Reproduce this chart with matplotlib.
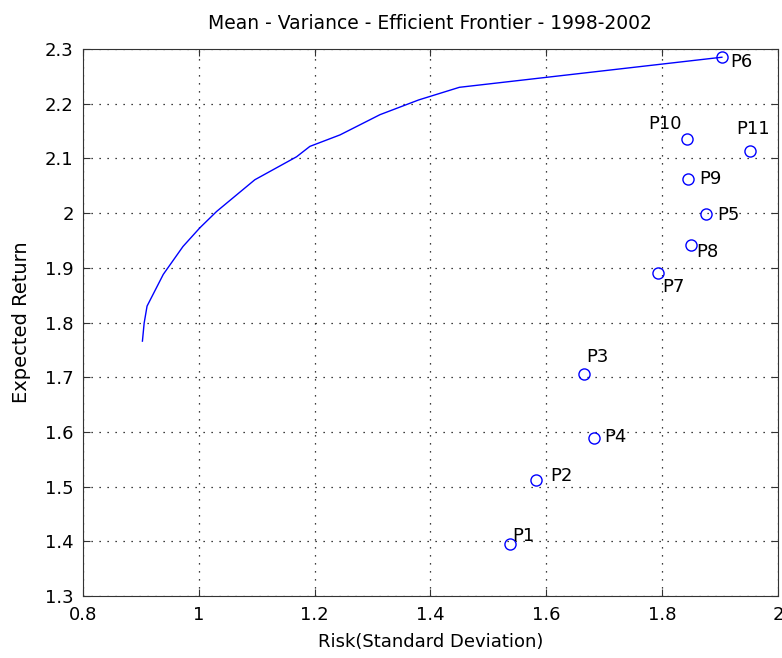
import numpy as np
import matplotlib
matplotlib.use("Agg")
import matplotlib.pyplot as plt

plt.rcParams['font.family'] = ['DejaVu Sans']

# --- Data ---
frontier_risk = [0.903, 0.906, 0.911, 0.939, 0.973, 1.002, 1.031, 1.097, 1.169,
                 1.192, 1.244, 1.313, 1.380, 1.450, 1.903]
frontier_ret = [1.766, 1.799, 1.830, 1.888, 1.939, 1.973, 2.003, 2.061, 2.103,
                2.122, 2.143, 2.180, 2.207, 2.230, 2.285]

names = ["P1", "P2", "P3", "P4", "P5", "P6", "P7", "P8", "P9", "P10", "P11"]
risk = [1.538, 1.582, 1.665, 1.682, 1.875, 1.903, 1.792, 1.849, 1.845, 1.842, 1.952]
ret = [1.395, 1.512, 1.705, 1.588, 1.998, 2.285, 1.890, 1.942, 2.063, 2.136, 2.113]

# label offsets in pixels (left edge of text, vertical centre)
offsets = {"P1": (2, 8), "P2": (14, 4), "P3": (2, 17), "P4": (10, 1),
           "P5": (12, -1), "P6": (8, -5), "P7": (5, -14), "P8": (6, -7),
           "P9": (11, 0), "P10": (-38, 15), "P11": (-14, 22)}

# --- Plot ---
fig = plt.figure(figsize=(7.82, 6.58), dpi=100)
ax = fig.add_axes([0.1058, 0.0942, 0.8892, 0.8313])

ax.plot(frontier_risk, frontier_ret, color="blue", linewidth=1)
ax.plot(risk, ret, "o", markerfacecolor="none", markeredgecolor="blue",
        markersize=8, markeredgewidth=1)

for n, xv, yv in zip(names, risk, ret):
    dx, dy = offsets[n]
    ax.annotate(n, (xv, yv), xytext=(dx, dy), textcoords="offset pixels",
                ha="left", va="center", fontsize=13)

ax.set_xlim(0.8, 2.0)
ax.set_ylim(1.3, 2.3)
ax.set_xticks(np.arange(0.8, 2.01, 0.2))
ax.set_xticklabels(["0.8", "1", "1.2", "1.4", "1.6", "1.8", "2"])
ax.set_yticks(np.arange(1.3, 2.31, 0.1))
ax.set_yticklabels(["1.3", "1.4", "1.5", "1.6", "1.7", "1.8", "1.9", "2", "2.1", "2.2", "2.3"])
ax.tick_params(direction="in", length=5, labelsize=13, top=True, right=True,
               color="#333333")
ax.tick_params(axis="x", pad=7.5)
ax.tick_params(axis="y", pad=6.5)
ax.grid(True, linestyle=(0, (1, 5.4)), color="black", linewidth=0.9)
for s in ax.spines.values():
    s.set_color("#333333")

ax.set_xlabel("Risk(Standard Deviation)", fontsize=13, labelpad=6)
ax.set_ylabel("Expected Return", fontsize=14, labelpad=10)
ax.set_title("Mean - Variance - Efficient Frontier - 1998-2002", fontsize=13.5, pad=14.5)

fig.savefig("out.png", dpi=100)
